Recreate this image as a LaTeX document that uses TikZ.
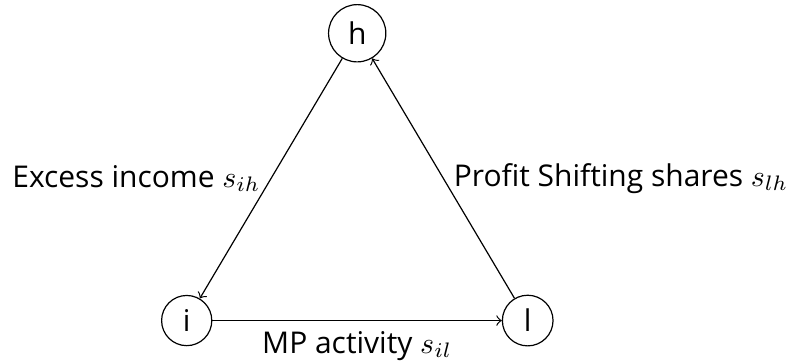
\documentclass[tikz,border=0pt]{standalone}
\usepackage{amsmath}
\usepackage{amssymb}
\usepackage{fontspec}
\setmainfont{Open Sans}
\usepackage{tikz}
\tikzset{vertex/.style={circle,draw}}

\begin{document}
\begin{tikzpicture}
\useasboundingbox (-2.19,-0.47) rectangle (7.1,3.76);
\node[vertex] (h) at (2,3.37) {h};
\node[vertex] (i) at (0,0) {i};
\node[vertex] (l) at (4,0) {l};
\draw[->] (h) -- (i) node[midway,left] {Excess income $s_{ih}$};
\draw[->] (i) -- (l) node[midway,below] {MP activity $s_{il}$};
\draw[->] (l) -- (h) node[midway,right] {Profit Shifting shares $s_{lh}$};
\end{tikzpicture}
\end{document}
